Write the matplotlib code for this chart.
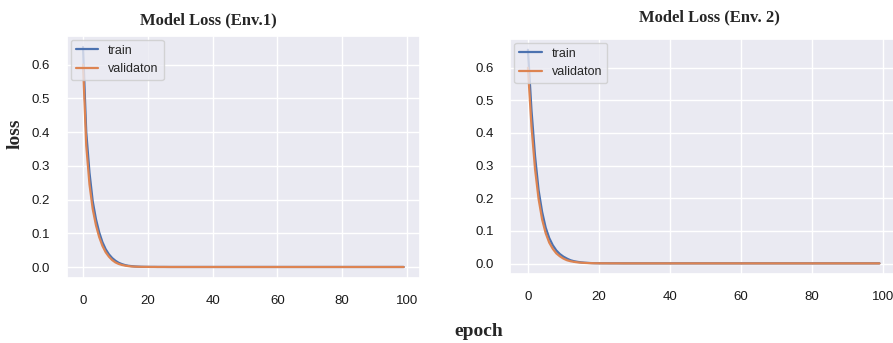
import numpy as np
import matplotlib
matplotlib.use("Agg")
import matplotlib.pyplot as plt
import seaborn as sns

# ---------------------------------------------------------------
# loss values (epochs 0..99)
epochs = list(range(100))

env1_train = [0.652, 0.40, 0.28, 0.195, 0.142, 0.103, 0.074, 0.053, 0.038, 0.027,
              0.019, 0.013, 0.009, 0.006, 0.004, 0.003, 0.002, 0.0015, 0.0011, 0.0009,
              0.0008, 0.0007, 0.0007, 0.0006, 0.0006, 0.0006, 0.0005, 0.0005, 0.0005, 0.0005,
              0.0005, 0.0005, 0.0005, 0.0005, 0.0005, 0.0005, 0.0005, 0.0005, 0.0005, 0.0005,
              0.0005, 0.0005, 0.0005, 0.0005, 0.0005, 0.0005, 0.0005, 0.0005, 0.0005, 0.0005,
              0.0005, 0.0005, 0.0005, 0.0005, 0.0005, 0.0005, 0.0005, 0.0005, 0.0005, 0.0005,
              0.0005, 0.0005, 0.0005, 0.0005, 0.0005, 0.0005, 0.0005, 0.0005, 0.0005, 0.0005,
              0.0005, 0.0005, 0.0005, 0.0005, 0.0005, 0.0005, 0.0005, 0.0005, 0.0005, 0.0005,
              0.0005, 0.0005, 0.0005, 0.0005, 0.0005, 0.0005, 0.0005, 0.0005, 0.0005, 0.0005,
              0.0005, 0.0005, 0.0005, 0.0005, 0.0005, 0.0005, 0.0005, 0.0005, 0.0005, 0.0005]
env1_val = [0.60, 0.36, 0.245, 0.172, 0.124, 0.089, 0.063, 0.044, 0.031, 0.021,
            0.014, 0.0095, 0.0065, 0.0045, 0.003, 0.002, 0.0015, 0.0011, 0.0009, 0.0008,
            0.0007, 0.0006, 0.0006, 0.0005, 0.0005, 0.0005, 0.0005, 0.0004, 0.0004, 0.0004,
            0.0004, 0.0004, 0.0004, 0.0004, 0.0004, 0.0004, 0.0004, 0.0004, 0.0004, 0.0004,
            0.0004, 0.0004, 0.0004, 0.0004, 0.0004, 0.0004, 0.0004, 0.0004, 0.0004, 0.0004,
            0.0004, 0.0004, 0.0004, 0.0004, 0.0004, 0.0004, 0.0004, 0.0004, 0.0004, 0.0004,
            0.0004, 0.0004, 0.0004, 0.0004, 0.0004, 0.0004, 0.0004, 0.0004, 0.0004, 0.0004,
            0.0004, 0.0004, 0.0004, 0.0004, 0.0004, 0.0004, 0.0004, 0.0004, 0.0004, 0.0004,
            0.0004, 0.0004, 0.0004, 0.0004, 0.0004, 0.0004, 0.0004, 0.0004, 0.0004, 0.0004,
            0.0004, 0.0004, 0.0004, 0.0004, 0.0004, 0.0004, 0.0004, 0.0004, 0.0004, 0.0004]

env2_train = [0.655, 0.47, 0.33, 0.225, 0.158, 0.110, 0.078, 0.056, 0.040, 0.029,
              0.021, 0.015, 0.010, 0.007, 0.005, 0.0035, 0.0025, 0.0018, 0.0012, 0.0009,
              0.0008, 0.0007, 0.0007, 0.0006, 0.0006, 0.0006, 0.0005, 0.0005, 0.0005, 0.0005,
              0.0005, 0.0005, 0.0005, 0.0005, 0.0005, 0.0005, 0.0005, 0.0005, 0.0005, 0.0005,
              0.0005, 0.0005, 0.0005, 0.0005, 0.0005, 0.0005, 0.0005, 0.0005, 0.0005, 0.0005,
              0.0005, 0.0005, 0.0005, 0.0005, 0.0005, 0.0005, 0.0005, 0.0005, 0.0005, 0.0005,
              0.0005, 0.0005, 0.0005, 0.0005, 0.0005, 0.0005, 0.0005, 0.0005, 0.0005, 0.0005,
              0.0005, 0.0005, 0.0005, 0.0005, 0.0005, 0.0005, 0.0005, 0.0005, 0.0005, 0.0005,
              0.0005, 0.0005, 0.0005, 0.0005, 0.0005, 0.0005, 0.0005, 0.0005, 0.0005, 0.0005,
              0.0005, 0.0005, 0.0005, 0.0005, 0.0005, 0.0005, 0.0005, 0.0005, 0.0005, 0.0005]
env2_val = [0.60, 0.42, 0.29, 0.198, 0.135, 0.093, 0.064, 0.045, 0.031, 0.022,
            0.015, 0.010, 0.007, 0.005, 0.0035, 0.0025, 0.0018, 0.0013, 0.0010, 0.0008,
            0.0007, 0.0006, 0.0006, 0.0005, 0.0005, 0.0005, 0.0005, 0.0004, 0.0004, 0.0004,
            0.0004, 0.0004, 0.0004, 0.0004, 0.0004, 0.0004, 0.0004, 0.0004, 0.0004, 0.0004,
            0.0004, 0.0004, 0.0004, 0.0004, 0.0004, 0.0004, 0.0004, 0.0004, 0.0004, 0.0004,
            0.0004, 0.0004, 0.0004, 0.0004, 0.0004, 0.0004, 0.0004, 0.0004, 0.0004, 0.0004,
            0.0004, 0.0004, 0.0004, 0.0004, 0.0004, 0.0004, 0.0004, 0.0004, 0.0004, 0.0004,
            0.0004, 0.0004, 0.0004, 0.0004, 0.0004, 0.0004, 0.0004, 0.0004, 0.0004, 0.0004,
            0.0004, 0.0004, 0.0004, 0.0004, 0.0004, 0.0004, 0.0004, 0.0004, 0.0004, 0.0004,
            0.0004, 0.0004, 0.0004, 0.0004, 0.0004, 0.0004, 0.0004, 0.0004, 0.0004, 0.0004]

titles = ["Model Loss (Env.1)", "Model Loss (Env. 2)"]
legend_labels = ["train", "validaton"]
yticks = [0.0, 0.1, 0.2, 0.3, 0.4, 0.5, 0.6]
xticks = [0, 20, 40, 60, 80, 100]

# ---------------------------------------------------------------
sns.set_theme(style="darkgrid")
plt.rcParams['font.family'] = ['Liberation Sans', 'DejaVu Sans']

fig = plt.figure(figsize=(8.93, 3.43), dpi=100)
ax1 = fig.add_axes([0.075, 0.1895, 0.395, 0.7055])
ax2 = fig.add_axes([0.5715, 0.201, 0.433, 0.685])

colors = sns.color_palette("deep")
for ax, tr, va in [(ax1, env1_train, env1_val), (ax2, env2_train, env2_val)]:
    ax.plot(epochs, tr, color=colors[0], lw=1.6, label=legend_labels[0])
    ax.plot(epochs, va, color=colors[1], lw=1.6, label=legend_labels[1])
    ax.set_yticks(yticks)
    ax.set_xticks(xticks)
    ax.tick_params(labelsize=9.5, pad=6, colors='#1a1a1a')
    ax.legend(loc='upper left', fontsize=9, handlelength=1.8,
              borderaxespad=0.3, framealpha=0.8)

# titles / shared labels in bold serif
serif = ['Liberation Serif', 'DejaVu Serif']
fig.text(208 / 893, 1 - 20 / 343, titles[0], ha='center', va='center',
         fontsize=12, fontweight='bold', family=serif)
fig.text(709 / 893, 1 - 17 / 343, titles[1], ha='center', va='center',
         fontsize=12, fontweight='bold', family=serif)
fig.text(15 / 893, 1 - 134 / 343, "loss", ha='center', va='center', rotation=90,
         fontsize=14, fontweight='bold', family=serif)
fig.text(479 / 893, 1 - 332 / 343, "epoch", ha='center', va='center',
         fontsize=14, fontweight='bold', family=serif)

fig.savefig("out.png", dpi=100)
